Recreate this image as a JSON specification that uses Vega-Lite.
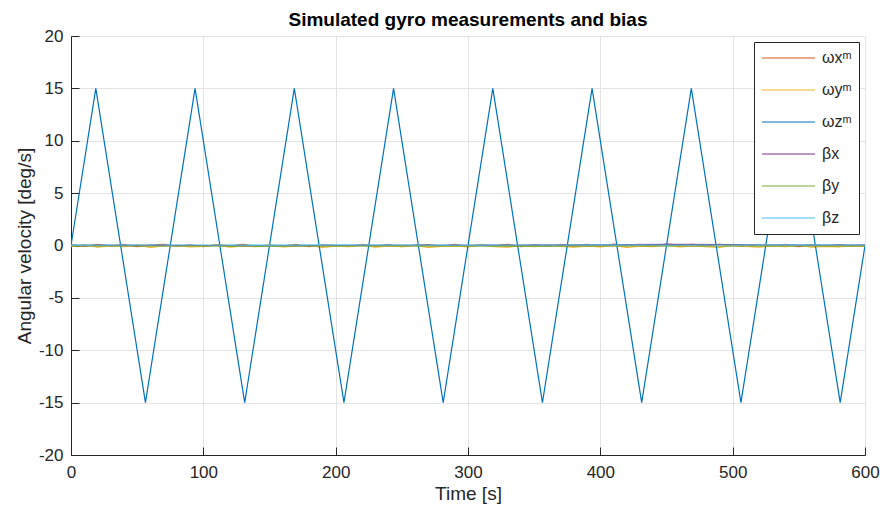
{
  "$schema": "https://vega.github.io/schema/vega-lite/v6.json",
  "autosize": "none",
  "width": 794,
  "height": 419,
  "padding": {"left": 71, "top": 36, "right": 15, "bottom": 56},
  "background": "white",
  "title": {"text": "Simulated gyro measurements and bias", "font": "Liberation Sans", "fontSize": 19, "fontWeight": "bold", "color": "#000000", "anchor": "middle", "frame": "group", "offset": -3},
  "datasets": {
    "gyro": [
      {"t":0,"v":0.06,"s":"wx"},{"t":10,"v":-0.08,"s":"wx"},{"t":20,"v":0.11,"s":"wx"},{"t":30,"v":-0.04,"s":"wx"},{"t":40,"v":0.09,"s":"wx"},{"t":50,"v":-0.12,"s":"wx"},{"t":60,"v":0.03,"s":"wx"},{"t":70,"v":0.1,"s":"wx"},{"t":80,"v":-0.07,"s":"wx"},{"t":90,"v":0.05,"s":"wx"},
      {"t":100,"v":-0.1,"s":"wx"},{"t":110,"v":0.08,"s":"wx"},{"t":120,"v":-0.03,"s":"wx"},{"t":130,"v":0.12,"s":"wx"},{"t":140,"v":-0.09,"s":"wx"},{"t":150,"v":0.04,"s":"wx"},{"t":160,"v":-0.06,"s":"wx"},{"t":170,"v":0.1,"s":"wx"},{"t":180,"v":-0.11,"s":"wx"},{"t":190,"v":0.07,"s":"wx"},
      {"t":200,"v":0.02,"s":"wx"},{"t":210,"v":-0.08,"s":"wx"},{"t":220,"v":0.11,"s":"wx"},{"t":230,"v":-0.05,"s":"wx"},{"t":240,"v":0.09,"s":"wx"},{"t":250,"v":-0.12,"s":"wx"},{"t":260,"v":0.04,"s":"wx"},{"t":270,"v":0.08,"s":"wx"},{"t":280,"v":-0.06,"s":"wx"},{"t":290,"v":0.1,"s":"wx"},
      {"t":300,"v":-0.09,"s":"wx"},{"t":310,"v":0.05,"s":"wx"},{"t":320,"v":-0.03,"s":"wx"},{"t":330,"v":0.12,"s":"wx"},{"t":340,"v":-0.1,"s":"wx"},{"t":350,"v":0.06,"s":"wx"},{"t":360,"v":-0.07,"s":"wx"},{"t":370,"v":0.09,"s":"wx"},{"t":380,"v":-0.04,"s":"wx"},{"t":390,"v":0.11,"s":"wx"},
      {"t":400,"v":-0.08,"s":"wx"},{"t":410,"v":0.13,"s":"wx"},{"t":420,"v":0.02,"s":"wx"},{"t":430,"v":0.1,"s":"wx"},{"t":440,"v":-0.05,"s":"wx"},{"t":450,"v":0.14,"s":"wx"},{"t":460,"v":0.03,"s":"wx"},{"t":470,"v":0.11,"s":"wx"},{"t":480,"v":-0.06,"s":"wx"},{"t":490,"v":0.12,"s":"wx"},
      {"t":500,"v":0.01,"s":"wx"},{"t":510,"v":-0.09,"s":"wx"},{"t":520,"v":0.07,"s":"wx"},{"t":530,"v":-0.04,"s":"wx"},{"t":540,"v":0.1,"s":"wx"},{"t":550,"v":-0.11,"s":"wx"},{"t":560,"v":0.05,"s":"wx"},{"t":570,"v":-0.07,"s":"wx"},{"t":580,"v":0.09,"s":"wx"},{"t":590,"v":-0.05,"s":"wx"},{"t":600,"v":0.04,"s":"wx"},
      {"t":0,"v":-0.1,"s":"wy"},{"t":10,"v":0.05,"s":"wy"},{"t":20,"v":-0.15,"s":"wy"},{"t":30,"v":-0.02,"s":"wy"},{"t":40,"v":-0.12,"s":"wy"},{"t":50,"v":0.04,"s":"wy"},{"t":60,"v":-0.18,"s":"wy"},{"t":70,"v":-0.05,"s":"wy"},{"t":80,"v":0.02,"s":"wy"},{"t":90,"v":-0.14,"s":"wy"},
      {"t":100,"v":-0.08,"s":"wy"},{"t":110,"v":0.03,"s":"wy"},{"t":120,"v":-0.16,"s":"wy"},{"t":130,"v":-0.04,"s":"wy"},{"t":140,"v":-0.11,"s":"wy"},{"t":150,"v":0.05,"s":"wy"},{"t":160,"v":-0.13,"s":"wy"},{"t":170,"v":-0.07,"s":"wy"},{"t":180,"v":0.01,"s":"wy"},{"t":190,"v":-0.17,"s":"wy"},
      {"t":200,"v":-0.06,"s":"wy"},{"t":210,"v":-0.12,"s":"wy"},{"t":220,"v":0.04,"s":"wy"},{"t":230,"v":-0.15,"s":"wy"},{"t":240,"v":-0.03,"s":"wy"},{"t":250,"v":-0.1,"s":"wy"},{"t":260,"v":0.02,"s":"wy"},{"t":270,"v":-0.18,"s":"wy"},{"t":280,"v":-0.08,"s":"wy"},{"t":290,"v":-0.05,"s":"wy"},
      {"t":300,"v":-0.14,"s":"wy"},{"t":310,"v":0.03,"s":"wy"},{"t":320,"v":-0.11,"s":"wy"},{"t":330,"v":-0.16,"s":"wy"},{"t":340,"v":-0.02,"s":"wy"},{"t":350,"v":-0.12,"s":"wy"},{"t":360,"v":0.04,"s":"wy"},{"t":370,"v":-0.09,"s":"wy"},{"t":380,"v":-0.15,"s":"wy"},{"t":390,"v":-0.06,"s":"wy"},
      {"t":400,"v":-0.13,"s":"wy"},{"t":410,"v":0.01,"s":"wy"},{"t":420,"v":-0.17,"s":"wy"},{"t":430,"v":-0.07,"s":"wy"},{"t":440,"v":-0.1,"s":"wy"},{"t":450,"v":0.03,"s":"wy"},{"t":460,"v":-0.14,"s":"wy"},{"t":470,"v":-0.05,"s":"wy"},{"t":480,"v":-0.12,"s":"wy"},{"t":490,"v":-0.18,"s":"wy"},
      {"t":500,"v":0.02,"s":"wy"},{"t":510,"v":-0.09,"s":"wy"},{"t":520,"v":-0.15,"s":"wy"},{"t":530,"v":-0.04,"s":"wy"},{"t":540,"v":-0.11,"s":"wy"},{"t":550,"v":0.03,"s":"wy"},{"t":560,"v":-0.16,"s":"wy"},{"t":570,"v":-0.08,"s":"wy"},{"t":580,"v":-0.13,"s":"wy"},{"t":590,"v":-0.02,"s":"wy"},{"t":600,"v":-0.1,"s":"wy"},
      {"t":0,"v":0,"s":"wz"},{"t":18.75,"v":15,"s":"wz"},{"t":56.25,"v":-15,"s":"wz"},{"t":93.75,"v":15,"s":"wz"},{"t":131.25,"v":-15,"s":"wz"},{"t":168.75,"v":15,"s":"wz"},{"t":206.25,"v":-15,"s":"wz"},{"t":243.75,"v":15,"s":"wz"},{"t":281.25,"v":-15,"s":"wz"},{"t":318.75,"v":15,"s":"wz"},{"t":356.25,"v":-15,"s":"wz"},{"t":393.75,"v":15,"s":"wz"},{"t":431.25,"v":-15,"s":"wz"},{"t":468.75,"v":15,"s":"wz"},{"t":506.25,"v":-15,"s":"wz"},{"t":543.75,"v":15,"s":"wz"},{"t":581.25,"v":-15,"s":"wz"},{"t":600,"v":0,"s":"wz"},
      {"t":0,"v":0.02,"s":"bx"},{"t":50,"v":0.01,"s":"bx"},{"t":100,"v":0.0,"s":"bx"},{"t":150,"v":-0.01,"s":"bx"},{"t":200,"v":0.0,"s":"bx"},{"t":250,"v":0.01,"s":"bx"},{"t":300,"v":0.02,"s":"bx"},{"t":350,"v":0.03,"s":"bx"},{"t":400,"v":0.06,"s":"bx"},{"t":450,"v":0.1,"s":"bx"},{"t":500,"v":0.09,"s":"bx"},{"t":550,"v":0.05,"s":"bx"},{"t":600,"v":0.03,"s":"bx"},
      {"t":0,"v":-0.04,"s":"by"},{"t":50,"v":-0.05,"s":"by"},{"t":100,"v":-0.05,"s":"by"},{"t":150,"v":-0.06,"s":"by"},{"t":200,"v":-0.05,"s":"by"},{"t":250,"v":-0.04,"s":"by"},{"t":300,"v":-0.05,"s":"by"},{"t":350,"v":-0.06,"s":"by"},{"t":400,"v":-0.05,"s":"by"},{"t":450,"v":-0.04,"s":"by"},{"t":500,"v":-0.05,"s":"by"},{"t":550,"v":-0.05,"s":"by"},{"t":600,"v":-0.04,"s":"by"},
      {"t":0,"v":0.04,"s":"bz"},{"t":50,"v":0.05,"s":"bz"},{"t":100,"v":0.05,"s":"bz"},{"t":150,"v":0.04,"s":"bz"},{"t":200,"v":0.06,"s":"bz"},{"t":250,"v":0.05,"s":"bz"},{"t":300,"v":0.04,"s":"bz"},{"t":350,"v":0.05,"s":"bz"},{"t":400,"v":0.06,"s":"bz"},{"t":450,"v":0.05,"s":"bz"},{"t":500,"v":0.05,"s":"bz"},{"t":550,"v":0.06,"s":"bz"},{"t":600,"v":0.05,"s":"bz"}
    ]
  },
  "data": {"name": "gyro"},
  "mark": {"type": "line", "strokeWidth": 1.2, "clip": true},
  "encoding": {
    "x": {"field": "t", "type": "quantitative", "scale": {"domain": [0, 600], "nice": false, "zero": false},
      "axis": {"title": "Time [s]", "values": [0, 100, 200, 300, 400, 500, 600], "labelPadding": 17, "titlePadding": 4}},
    "y": {"field": "v", "type": "quantitative", "scale": {"domain": [-20, 20], "nice": false},
      "axis": {"title": "Angular velocity [deg/s]", "values": [-20, -15, -10, -5, 0, 5, 10, 15, 20], "labelPadding": 16, "titlePadding": 4, "labelExpr": "replace(datum.label, '−', '-')"}},
    "color": {"field": "s", "type": "nominal",
      "scale": {"domain": ["wx", "wy", "wz", "bx", "by", "bz"], "range": ["#D95319", "#EDB120", "#0072BD", "#7E2F8E", "#77AC30", "#4DBEEE"]},
      "legend": {"title": null, "labelExpr": "datum.value == 'wx' ? 'ωxᵐ' : datum.value == 'wy' ? 'ωyᵐ' : datum.value == 'wz' ? 'ωzᵐ' : datum.value == 'bx' ? 'βx' : datum.value == 'by' ? 'βy' : 'βz'"}}
  },
  "config": {
    "view": {"stroke": null},
    "axis": {
      "domainColor": "#262626", "domainWidth": 1, "tickColor": "#262626", "tickSize": -8, "tickWidth": 1,
      "gridColor": "#e3e3e3", "gridWidth": 1,
      "labelFont": "Liberation Sans", "labelFontSize": 17, "labelColor": "#262626",
      "titleFont": "Liberation Sans", "titleFontSize": 19, "titleFontWeight": "normal", "titleColor": "#262626",
      "labelFlush": false, "labelOverlap": false
    },
    "legend": {
      "orient": "top-right", "offset": 6, "strokeColor": "#262626", "fillColor": "white", "padding": 7,
      "symbolType": "stroke", "symbolSize": 2809, "symbolStrokeWidth": 1.2, "clipHeight": 18, "rowPadding": 14,
      "labelOffset": 6, "labelFont": "Liberation Sans", "labelFontSize": 16, "labelColor": "#262626"
    }
  }
}
